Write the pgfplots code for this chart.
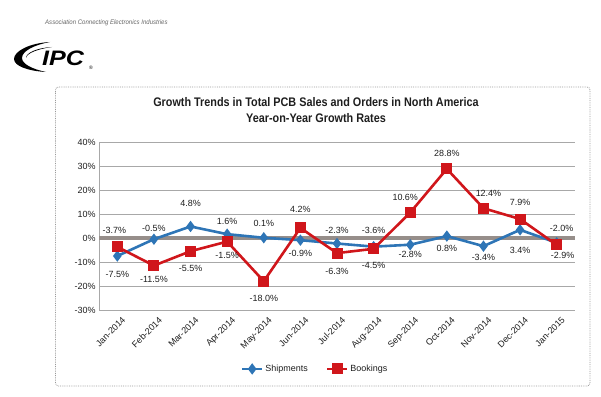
\documentclass[border=0pt]{standalone}
\usepackage{fontspec}
\setmainfont{Liberation Sans}
\usepackage{graphicx}
\usepackage{pgfplots}
\usepackage{pgfplotstable}
\pgfplotsset{compat=1.18}

\definecolor{shipblue}{HTML}{2E75B6}
\definecolor{bookred}{HTML}{D0161B}
\definecolor{zerogray}{HTML}{968E8A}
\definecolor{gridgray}{HTML}{A8A8A8}
\definecolor{txt}{HTML}{1E1E1E}

\pgfplotstableread{
x y dx dy
0 -7.5 0 -18
1 -0.5 0 11
2 4.8 0 23
3 1.6 0 13
4 0.1 0 14
5 -0.9 0 -13
6 -2.3 0 13
7 -3.6 0 16
8 -2.8 0 -10
9 0.8 0 -12
10 -3.4 0 -11
11 3.4 0 -21
12 -2.0 5 14
}\shiptable

\pgfplotstableread{
x y dx dy
0 -3.7 -3 16
1 -11.5 0 -14
2 -5.5 0 -17
3 -1.5 0 -14
4 -18.0 0 -17
5 4.2 0 19
6 -6.3 0 -18
7 -4.5 0 -17
8 10.6 -5 15
9 28.8 0 15
10 12.4 5 15
11 7.9 0 17
12 -2.9 6 -10
}\booktable

\begin{document}
\begin{tikzpicture}
\path[use as bounding box] (0bp,0bp) rectangle (601bp,397bp);
% outer frame
\draw[gray!80, densely dotted, line width=0.8bp, rounded corners=3bp] (55.5bp,11bp) rectangle (590bp,310bp);
% logo
\node[anchor=west, text=gray!80!black, font=\itshape\fontsize{6.6}{7}\selectfont, inner sep=0pt] at (45bp,374bp) {\scalebox{0.92}[1]{Association Connecting Electronics Industries}};
\fill[black] (50bp,355bp) .. controls (30bp,354bp) and (14bp,346bp) .. (14bp,338bp) .. controls (14bp,331bp) and (28bp,326bp) .. (46bp,325bp) .. controls (32bp,328bp) and (22bp,333bp) .. (22bp,339bp) .. controls (22bp,346bp) and (34bp,352bp) .. (50bp,355bp) -- cycle;
\fill[black] (52bp,350bp) .. controls (36bp,349bp) and (26bp,344bp) .. (26bp,339bp) .. controls (27bp,344bp) and (38bp,348bp) .. (52bp,350bp) -- cycle;
\node[anchor=south west, font=\bfseries\itshape\fontsize{21}{22}\selectfont, inner sep=0pt] at (42bp,331bp) {\scalebox{1.2}[1]{IPC}};
\node[anchor=west, font=\fontsize{5}{5}\selectfont, inner sep=0pt] at (89bp,329bp) {®};
% title
\node[align=center, text=txt, font=\bfseries\fontsize{12.5}{16}\selectfont] at (316bp,287bp)
  {\scalebox{0.87}[1]{Growth Trends in Total PCB Sales and Orders in North America}\\
   \scalebox{0.87}[1]{Year-on-Year Growth Rates}};

\begin{axis}[
  at={(99bp,87bp)}, anchor=south west,
  scale only axis, width=476bp, height=168bp,
  xmin=-0.5, xmax=12.5, ymin=-30, ymax=40,
  clip=false,
  /pgf/number format/assume math mode=true,
  ytick={-30,-20,...,40},
  yticklabel={\pgfmathprintnumber{\tick}\%},
  xtick={0,...,12},
  xticklabels={Jan-2014,Feb-2014,Mar-2014,Apr-2014,May-2014,Jun-2014,Jul-2014,Aug-2014,Sep-2014,Oct-2014,Nov-2014,Dec-2014,Jan-2015},
  x tick label style={rotate=45, anchor=north east, xshift=2bp, yshift=-4bp},
  tick label style={text=txt, font=\fontsize{9}{10}\selectfont},
  major tick length=0pt,
  axis x line*=bottom, axis y line*=left,
  x axis line style={draw=none},
  y axis line style={gridgray, line width=1bp},
  ymajorgrids, grid style={gridgray, line width=0.9bp},
  extra y ticks={0}, extra y tick labels={},
  extra y tick style={grid=major, major grid style={zerogray, line width=4bp}},
  legend columns=2,
  legend style={draw=none, fill=none, at={(0.454,-0.351)}, anchor=center,
    font=\fontsize{9}{10}\selectfont, text=txt,
    /tikz/every even column/.append style={column sep=16bp}},
  legend image code/.code={\draw[mark repeat=2,mark phase=2,#1] plot coordinates {(0bp,0bp) (10bp,0bp) (20bp,0bp)};},
  every node near coord/.append style={text=txt, font=\fontsize{9}{10}\selectfont, anchor=center, inner sep=0pt, xshift=\ldx bp, yshift=\ldy bp},
  nodes near coords={\pgfmathprintnumber[fixed,fixed zerofill,precision=1]{\pgfplotspointmeta}\%},
  visualization depends on={\thisrow{dx} \as \ldx},
  visualization depends on={\thisrow{dy} \as \ldy},
]
\addplot[shipblue, line width=2.6bp, mark=diamond*, mark size=3.6bp, mark options={solid}] table[x=x,y=y] {\shiptable};
\addlegendentry{Shipments}
\addplot[bookred, line width=2.6bp, mark=square*, mark size=4.2bp, mark options={solid}] table[x=x,y=y] {\booktable};
\addlegendentry{Bookings}
\end{axis}
\end{tikzpicture}
\end{document}
